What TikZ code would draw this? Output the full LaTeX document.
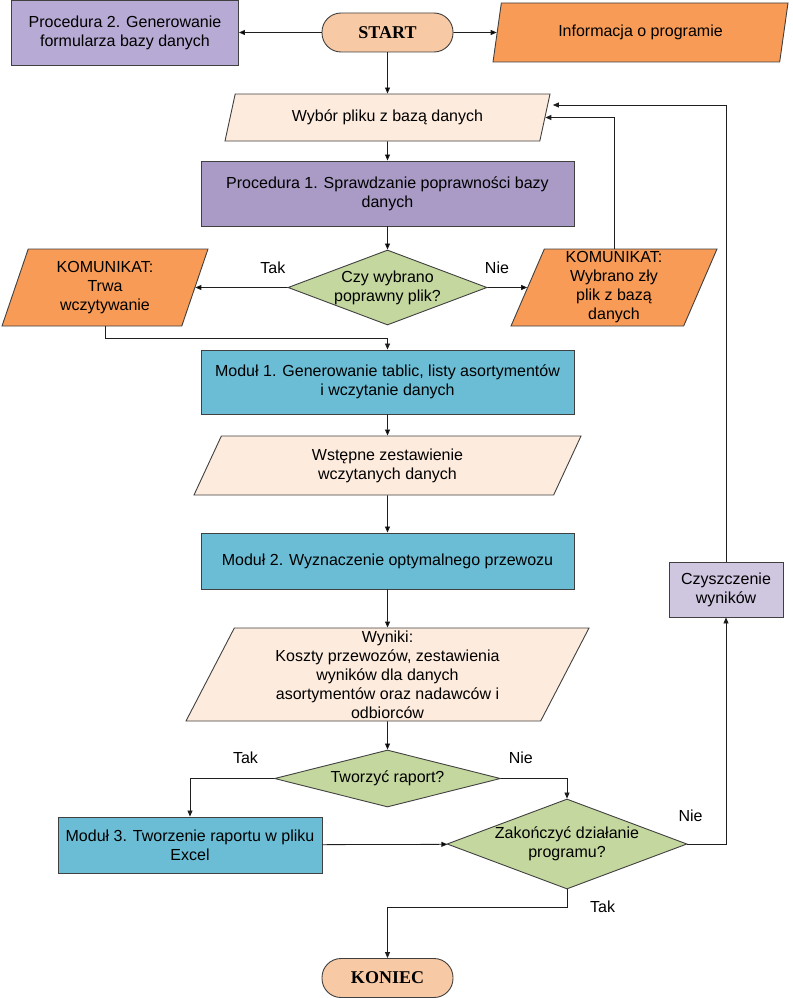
\documentclass[tikz,border=0pt]{standalone}
\usepackage{fontspec}
\setmainfont{Liberation Sans}
\newfontfamily\termfont{Liberation Serif}
\usetikzlibrary{positioning,shapes.geometric,arrows.meta}
\definecolor{linec}{HTML}{1E1E1E}
\definecolor{bordc}{HTML}{404040}
\definecolor{termfill}{HTML}{F8C9A5}
\definecolor{msgfill}{HTML}{F79B56}
\definecolor{iofill}{HTML}{FDEBDD}
\definecolor{procfill}{HTML}{A99BC6}
\definecolor{procbfill}{HTML}{B7AAD4}
\definecolor{cleanfill}{HTML}{CFC6E0}
\definecolor{modfill}{HTML}{6ABDD5}
\definecolor{decfill}{HTML}{C4D79E}

\begin{document}
\begin{tikzpicture}[x=1pt,y=1pt,on grid,
  every node/.style={font=\fontsize{16}{19}\selectfont},
  base/.style={draw=bordc, line width=0.9pt, align=center, inner sep=1pt},
  term/.style={base, fill=termfill, rounded corners=19pt, minimum width=131pt, minimum height=39pt,
    font=\termfont\bfseries\fontsize{18}{20}\selectfont},
  proc/.style={base, rectangle},
  io/.style={base, trapezium, trapezium left angle=#1, trapezium right angle={180-#1},
    trapezium stretches body=true},
  decision/.style={base, diamond, fill=decfill, inner sep=0pt},
  lbl/.style={inner sep=0pt},
  conn/.style={draw=linec, line width=0.8pt, -{Triangle[length=6pt,width=5pt]}}]
   \useasboundingbox (0,0) rectangle (792,-998);

   \node[term] (start) at (387.5,-32.5) {START};
   \node[proc, fill=procbfill, minimum width=227pt, minimum height=65pt] (proc2) [left=262.5pt of start]
     {Procedura 2. Generowanie\\formularza bazy danych};
   \node[io=63.8, fill=msgfill, minimum width=295pt, minimum height=59pt] (info) [right=253pt of start]
     {Informacja o programie};
   \node[io=59.2, fill=iofill, minimum width=325pt, minimum height=47pt] (wybor) [below=85pt of start]
     {Wybór pliku z bazą danych};
   \node[proc, fill=procfill, minimum width=373pt, minimum height=65pt] (proc1) [below=76pt of wybor]
     {Procedura 1. Sprawdzanie poprawności bazy\\danych};
   \node[decision, minimum width=199pt, minimum height=75pt, aspect=2.65] (dec1) [below=94pt of proc1]
     {Czy wybrano\\poprawny plik?};
   \node[io=64.3, fill=msgfill, minimum width=206pt, minimum height=77pt] (komL) [left=282.5pt of dec1]
     {KOMUNIKAT:\\Trwa\\wczytywanie};
   \node[io=65.6, fill=msgfill, minimum width=206pt, minimum height=77pt] (komR) [right=226.5pt of dec1]
     {KOMUNIKAT:\\Wybrano zły\\plik z bazą\\danych};
   \node[proc, fill=modfill, minimum width=373pt, minimum height=64pt] (mod1) [below=94.5pt of dec1]
     {Moduł 1. Generowanie tablic, listy asortymentów\\i wczytanie danych};
   \node[io=52.7, fill=iofill, minimum width=387pt, minimum height=59pt] (wstep) [below=83.5pt of mod1]
     {Wstępne zestawienie\\wczytanych danych};
   \node[proc, fill=modfill, minimum width=373pt, minimum height=56pt] (mod2) [below=95.5pt of wstep]
     {Moduł 2. Wyznaczenie optymalnego przewozu};
   \node[io=61.7, fill=iofill, minimum width=403pt, minimum height=93pt] (wyniki) [below=113.5pt of mod2]
     {Wyniki:\\Koszty przewozów, zestawienia\\wyników dla danych\\asortymentów oraz nadawców i\\odbiorców};
   \node[decision, minimum width=226pt, minimum height=57pt, aspect=3.96] (dec2) [below=104pt of wyniki]
     {Tworzyć raport?};
   \node[proc, fill=modfill, minimum width=264pt, minimum height=56pt] (mod3) [below left=66.5pt and 197.5pt of dec2]
     {Moduł 3. Tworzenie raportu w pliku\\Excel};
   \node[decision, minimum width=240pt, minimum height=90pt, aspect=2.67] (dec3) [below right=65.5pt and 179.5pt of dec2]
     {Zakończyć działanie\\programu?};
   \node[proc, fill=cleanfill, minimum width=114pt, minimum height=55pt] (czysz) [above right=254.5pt and 159pt of dec3]
     {Czyszczenie\\wyników};
   \node[term] (koniec) [below=199.5pt of dec2] {KONIEC};

   \path[conn]
    (start) edge (proc2)
            edge (info)
            edge (wybor)
    (wybor) edge (proc1)
    (proc1) edge (dec1)
    (dec1) edge node[lbl, pos=0.16, above=13.5pt] {Tak} (komL)
           edge node[lbl, pos=0.24, above=13.5pt] {Nie} (komR)
    (mod1) edge (wstep)
    (wstep) edge (mod2)
    (mod2) edge (wyniki)
    (wyniki) edge (dec2)
    (mod3) edge (dec3);
   \draw[conn] (komR) |- (wybor);
   \draw[conn] (komL) |- ([yshift=11pt]mod1.north) -- (mod1);
   \draw[conn] (dec2) -| node[lbl, pos=0.17, above=14.5pt] {Tak} (mod3);
   \draw[conn] (dec2) -| node[lbl, pos=0.15, above=14.5pt] {Nie} (dec3);
   \draw[conn] (dec3) -| node[lbl, pos=0.04, above=22pt] {Nie} (czysz);
   \draw[conn] (czysz) |- ([shift={(7.5,12.5)}]wybor.east);
   \draw[conn] (dec3) |- node[lbl, pos=0.5, right=22.7pt] {Tak} ([yshift=51pt]koniec.north) -- (koniec);
\end{tikzpicture}
\end{document}
